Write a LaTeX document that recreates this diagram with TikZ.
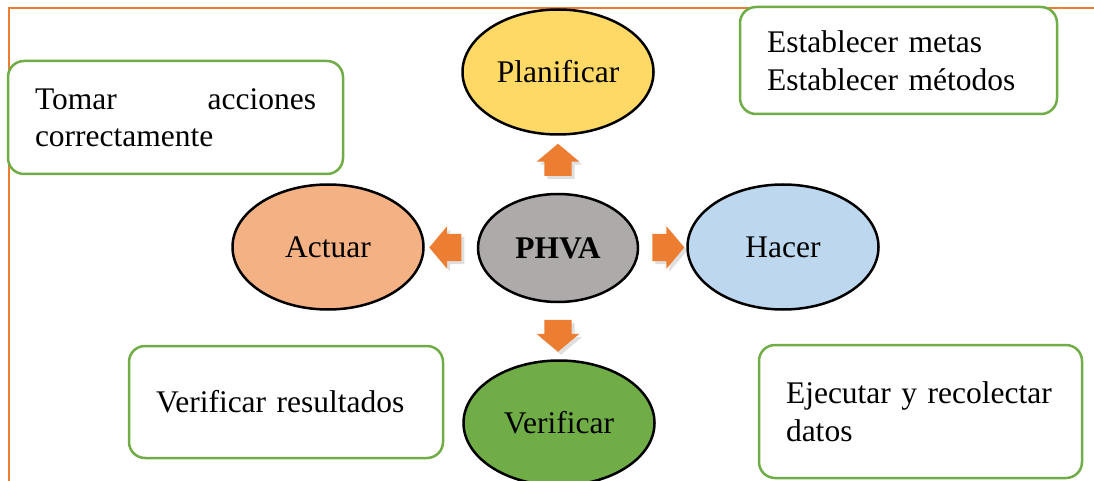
\documentclass[tikz,border=0pt]{standalone}
\usepackage{fontspec}
\setmainfont{Liberation Serif}
\usetikzlibrary{shapes.geometric,shapes.arrows,shadows}

\definecolor{naranja}{HTML}{ED7D31}
\definecolor{verde}{HTML}{70AD47}
\definecolor{amarillo}{HTML}{FFD966}
\definecolor{salmon}{HTML}{F4B183}
\definecolor{gris}{HTML}{AEAAAA}
\definecolor{celeste}{HTML}{BDD7EE}

\tikzset{
  fase/.style={ellipse, draw=black, line width=2.5pt, inner sep=0pt,
    minimum width=191pt, minimum height=125pt},
  nota/.style={draw=verde, line width=2.5pt, fill=white, rounded corners=16pt,
    inner xsep=27pt, inner ysep=0pt, align=left},
  flecha/.style={single arrow, fill=naranja, inner xsep=0pt, inner ysep=13.5pt,
    minimum height=32pt,
    single arrow head extend=7.5pt, single arrow tip angle=100,
    drop shadow={opacity=0.25, shadow xshift=3pt, shadow yshift=-3pt}},
}

\begin{document}
\begin{tikzpicture}[x=1pt, y=-1pt, font=\fontsize{31.5}{37.5}\selectfont]
\useasboundingbox (0,0) rectangle (1094,481);

\draw[naranja, line width=2pt] (8.5,481) -- (8.5,8.5) -- (1094,8.5);

\node[fase, fill=amarillo] (planificar) at (558,72) {Planificar};
\node[fase, fill=gris, minimum width=160pt, minimum height=108pt] (phva) at (558,248) {\textbf{PHVA}};
\node[fase, fill=salmon] (actuar) at (328,247) {Actuar};
\node[fase, fill=celeste] (hacer) at (783,247) {Hacer};
\node[fase, fill=verde] (verificar) at (559,423) {Verificar};

\node[flecha, rotate=90] (fp) at (558,165.5) {};
\node[flecha, rotate=-90] (fv) at (558,330) {};
\node[flecha, rotate=180] (fa) at (451,247.5) {};
\node[flecha] (fh) at (662.5,247.5) {};

\node[nota, text width=281pt, minimum height=113pt] (tomar) at (175.5,117.5) {Tomar\hfill acciones\\correctamente};
\node[nota, text width=263pt, minimum height=107pt] (metas) at (898.5,60.5) {Establecer metas\\Establecer métodos};
\node[nota, text width=260pt, minimum height=112pt] (resultados) at (286,402) {Verificar resultados};
\node[nota, text width=269pt, minimum height=133pt] (datos) at (920.5,411.5) {Ejecutar y recolectar\\datos};
\end{tikzpicture}
\end{document}
